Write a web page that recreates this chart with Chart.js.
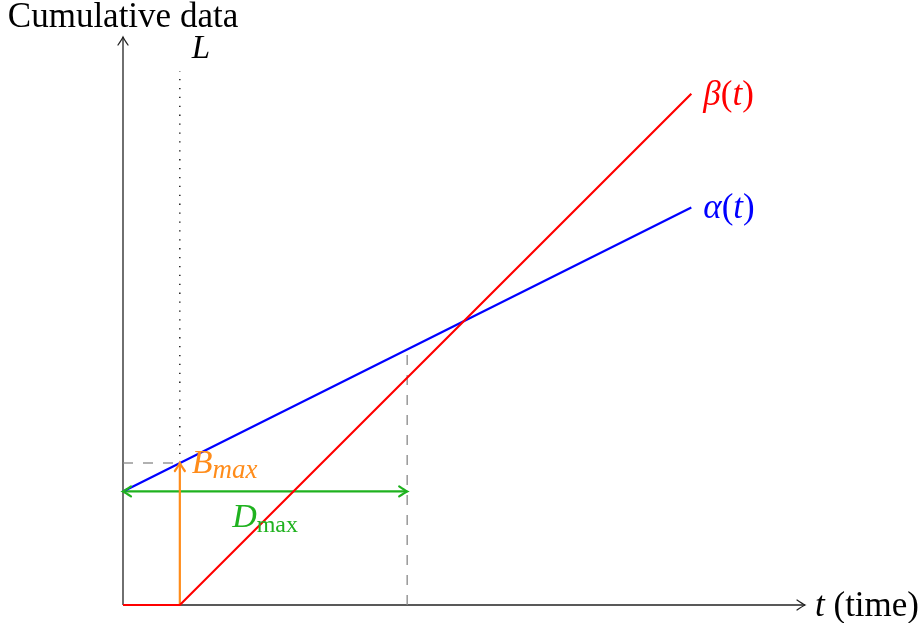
<!DOCTYPE html>
<html><head><meta charset="utf-8">
<script src="https://cdn.jsdelivr.net/npm/chart.js@4"></script>
<style>html,body{margin:0;padding:0;background:#fff}canvas{display:block}</style>
</head><body>
<canvas id="c" width="922" height="623"></canvas>
<script>
// ---- data (in diagram units) ----
const alphaT = [0, 10];
const alphaValues = [2, 7];
const betaT = [0, 1, 10];
const betaValues = [0, 0, 9];
const latencyL = 1;            // L
const bmaxValue = 2.5;         // alpha(L)
const dmaxLevel = 2;           // height of D_max arrow
const dmaxRange = [0, 5];      // horizontal extent of D_max
const dmaxGuideTop = 4.4;      // top of dashed vertical guide
const lGuideTop = 9.4;         // top of dotted L line
const axisMax = { t: 12, y: 10 };

const pts = (xs, ys) => xs.map((x, i) => ({ x, y: ys[i] }));

const FONT = "'Liberation Serif', 'DejaVu Serif', serif";

function arrowHead(ctx, x, y, angle, color, lw) {
  ctx.save();
  ctx.translate(x, y);
  ctx.rotate(angle);
  ctx.strokeStyle = color;
  ctx.lineWidth = lw;
  ctx.lineCap = 'round';
  ctx.beginPath();
  ctx.moveTo(-8, -5);
  ctx.quadraticCurveTo(-2.5, -1.2, 0, 0);
  ctx.quadraticCurveTo(-2.5, 1.2, -8, 5);
  ctx.stroke();
  ctx.restore();
}

function drawRich(ctx, parts, x, y, align) {
  let total = 0;
  parts.forEach(p => { ctx.font = `${p.style || ''} ${p.size}px ${FONT}`; p.w = ctx.measureText(p.t).width; total += p.w; });
  let cx = align === 'center' ? x - total / 2 : x;
  parts.forEach(p => {
    ctx.font = `${p.style || ''} ${p.size}px ${FONT}`;
    ctx.fillText(p.t, cx, y + (p.dy || 0));
    cx += p.w;
  });
}

const overlay = {
  id: 'overlay',
  afterDatasetsDraw(chart) {
    const ctx = chart.ctx, xs = chart.scales.x, ys = chart.scales.y;
    const X = v => xs.getPixelForValue(v), Y = v => ys.getPixelForValue(v);
    arrowHead(ctx, X(axisMax.t), Y(0), 0, '#222', 1.3);
    arrowHead(ctx, X(0), Y(axisMax.y), -Math.PI / 2, '#222', 1.3);
    arrowHead(ctx, X(dmaxRange[0]), Y(dmaxLevel), Math.PI, '#1fb21f', 2.2);
    arrowHead(ctx, X(dmaxRange[1]), Y(dmaxLevel), 0, '#1fb21f', 2.2);
    arrowHead(ctx, X(latencyL), Y(bmaxValue), -Math.PI / 2, '#ff8c1a', 2.2);

    ctx.save();
    ctx.textBaseline = 'alphabetic';
    ctx.fillStyle = '#000';
    ctx.textAlign = 'left';
    drawRich(ctx, [{ t: 'Cumulative data', size: 35 }], X(0), Y(axisMax.y) - 10, 'center');
    drawRich(ctx, [{ t: 'L', size: 33, style: 'italic' }], X(latencyL) + 12, Y(lGuideTop) - 13, 'left');
    drawRich(ctx, [{ t: 't', size: 35, style: 'italic' }, { t: ' (time)', size: 35 }], X(axisMax.t) + 10, Y(0) + 11, 'left');
    ctx.fillStyle = '#f00';
    drawRich(ctx, [{ t: 'β', size: 35, style: 'italic' }, { t: '(', size: 35 }, { t: 't', size: 35, style: 'italic' }, { t: ')', size: 35 }],
      X(betaT[betaT.length - 1]) + 12, Y(betaValues[betaValues.length - 1]) + 11, 'left');
    ctx.fillStyle = '#00f';
    drawRich(ctx, [{ t: 'α', size: 35, style: 'italic' }, { t: '(', size: 35 }, { t: 't', size: 35, style: 'italic' }, { t: ')', size: 35 }],
      X(alphaT[alphaT.length - 1]) + 12, Y(alphaValues[alphaValues.length - 1]) + 11, 'left');
    ctx.fillStyle = '#ff8c1a';
    drawRich(ctx, [{ t: 'B', size: 34, style: 'italic' }, { t: 'max', size: 27, style: 'italic', dy: 5 }],
      X(latencyL) + 12, Y(bmaxValue) + 10, 'left');
    ctx.fillStyle = '#1fb21f';
    drawRich(ctx, [{ t: 'D', size: 34, style: 'italic' }, { t: 'max', size: 24, dy: 5 }],
      X((dmaxRange[0] + dmaxRange[1]) / 2), Y(dmaxLevel) + 36, 'center');
    ctx.restore();
  }
};

const base = { showLine: true, pointRadius: 0, pointHoverRadius: 0, fill: false, tension: 0 };

new Chart(document.getElementById('c'), {
  type: 'scatter',
  data: {
    datasets: [
      { ...base, label: 'beta', data: pts(betaT, betaValues), borderColor: '#f00', borderWidth: 2.2, order: 1 },
      { ...base, label: 'alpha', data: pts(alphaT, alphaValues), borderColor: '#00f', borderWidth: 2.2, order: 1 },
      { ...base, label: 'Bmax', data: [{ x: latencyL, y: 0 }, { x: latencyL, y: bmaxValue }], borderColor: '#ff8c1a', borderWidth: 2.2, order: 2 },
      { ...base, label: 'Dmax', data: [{ x: dmaxRange[0], y: dmaxLevel }, { x: dmaxRange[1], y: dmaxLevel }], borderColor: '#1fb21f', borderWidth: 2.2, order: 2 },
      { ...base, label: 'Lguide', data: [{ x: latencyL, y: bmaxValue }, { x: latencyL, y: lGuideTop }], borderColor: '#000', borderWidth: 1.3, borderDash: [1.3, 7.6], order: 5 },
      { ...base, label: 'hguide', data: [{ x: 0, y: bmaxValue }, { x: latencyL, y: bmaxValue }], borderColor: '#888', borderWidth: 1.3, borderDash: [10, 10], order: 5 },
      { ...base, label: 'vguide', data: [{ x: dmaxRange[1], y: 0 }, { x: dmaxRange[1], y: dmaxGuideTop }], borderColor: '#888', borderWidth: 1.3, borderDash: [10, 10], order: 5 },
      { ...base, label: 'xaxis', data: [{ x: 0, y: 0 }, { x: axisMax.t, y: 0 }], borderColor: '#222', borderWidth: 1.3, order: 10 },
      { ...base, label: 'yaxis', data: [{ x: 0, y: 0 }, { x: 0, y: axisMax.y }], borderColor: '#222', borderWidth: 1.3, order: 10 }
    ]
  },
  options: {
    responsive: false,
    animation: false,
    events: [],
    clip: false,
    layout: { padding: { left: 123, right: 117, top: 37, bottom: 18 } },
    plugins: { legend: { display: false }, tooltip: { enabled: false } },
    scales: {
      x: { type: 'linear', min: 0, max: axisMax.t, display: false },
      y: { type: 'linear', min: 0, max: axisMax.y, display: false }
    }
  },
  plugins: [overlay]
});
</script>
</body></html>
